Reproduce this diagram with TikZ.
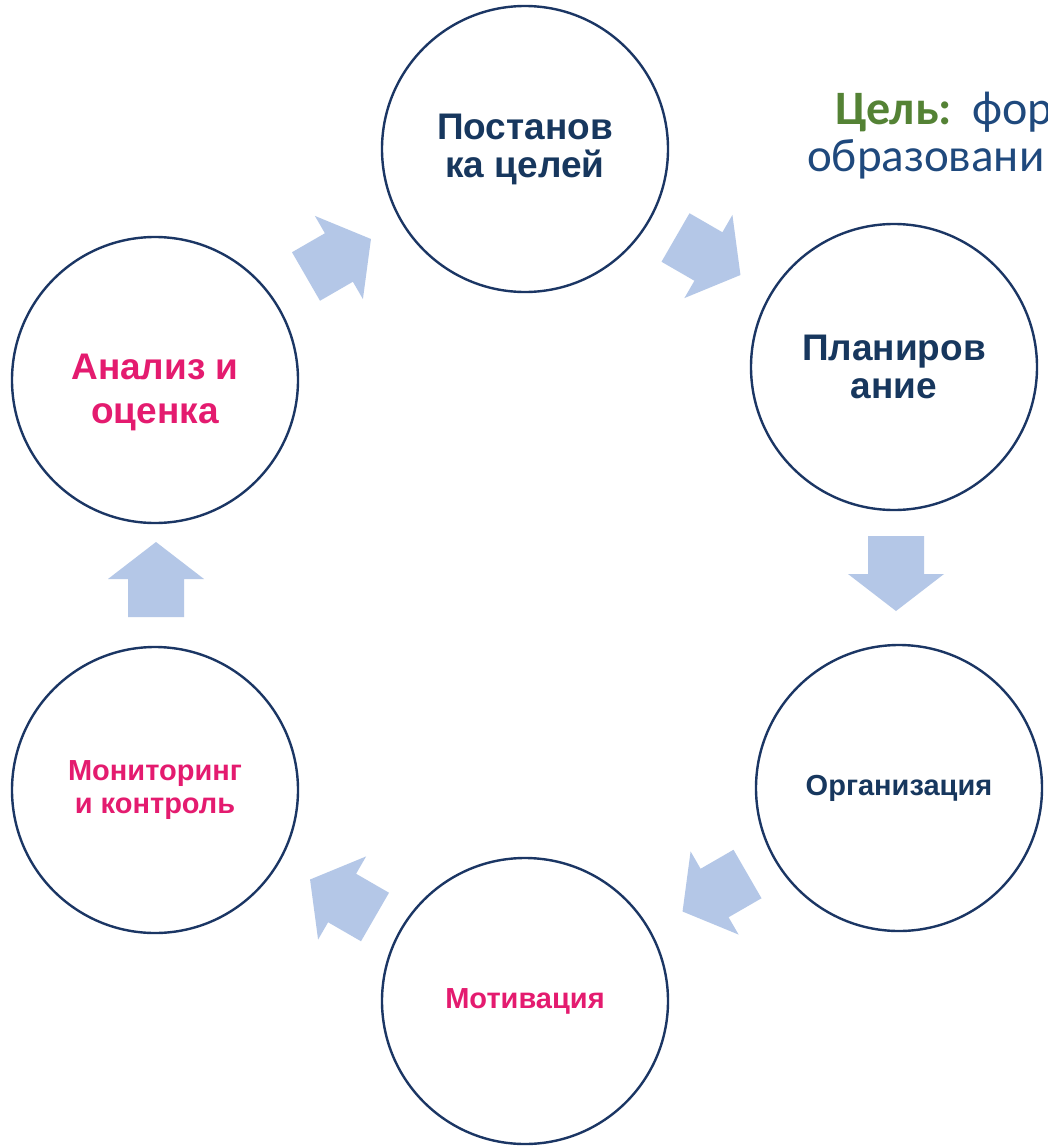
\documentclass[tikz,border=0pt]{standalone}
\usepackage{fontspec}
\setmainfont{Liberation Sans}
\newfontfamily\carlito{Carlito}
\definecolor{navy}{HTML}{17375E}
\definecolor{ringcol}{HTML}{1B3664}
\definecolor{pinkc}{HTML}{E41B6F}
\definecolor{greenc}{HTML}{548235}
\definecolor{goalblue}{HTML}{1F497D}
\definecolor{arrowfill}{HTML}{B4C7E7}
\tikzset{
  ring/.style={circle, draw=ringcol, line width=2.4pt, minimum size=286pt, inner sep=0pt, align=center, font=\bfseries\fontsize{37}{38}\selectfont},
  ringsmall/.style={ring, font=\bfseries\fontsize{29}{33}\selectfont},
  ringlabel/.style={inner sep=0pt, align=center, font=\bfseries\fontsize{37}{44}\selectfont},
  pics/blockarrow/.style={code={
    \fill[arrowfill, rotate=#1] (0,-28) -- (38,-28) -- (38,-48) -- (75,0) -- (38,48) -- (38,28) -- (0,28) -- cycle;
  }}
}
\begin{document}
\begin{tikzpicture}[x=1pt,y=1pt]
\clip (0,0) rectangle (1048,-1146);
\fill[white] (0,0) rectangle (1048,-1146);
% circles
\node[ring, text=navy] (post) at (525,-149) {Постанов\\ка целей};
\node[ring, text=navy] (plan) at (894,-367) {Планиров\\ание};
\node[ringsmall, text=navy] (org) at (899,-788) {Организация};
\node[ringsmall, text=pinkc] (motiv) at (525,-1001) {Мотивация};
\node[ringsmall, text=pinkc] (monit) at (155,-790) {Мониторинг\\и контроль};
\node[ring] (anal) at (155,-380) {};
\node[ringlabel, text=pinkc] (anallbl) at ([yshift=-12pt]anal.center) {Анализ и\\оценка};
% arrows
\pic at (306,-276.5) {blockarrow=30};
\pic at (675.5,-237.5) {blockarrow=-30};
\pic at (896,-536) {blockarrow=-90};
\pic at (747.5,-874) {blockarrow=210};
\pic at (375,-917) {blockarrow=150};
\pic at (156,-617) {blockarrow=90};
% goal text
\node[anchor=base west, inner sep=0pt, font=\carlito\fontsize{48}{48}\selectfont] (goal1) at (835,-124) {\textcolor{greenc}{\bfseries Цель:}\hspace{20pt}\textcolor{goalblue}{фор}};
\node[anchor=base west, inner sep=0pt, font=\carlito\fontsize{47}{47}\selectfont, text=goalblue] (goal2) at (807,-171) {образовани};
\end{tikzpicture}
\end{document}
